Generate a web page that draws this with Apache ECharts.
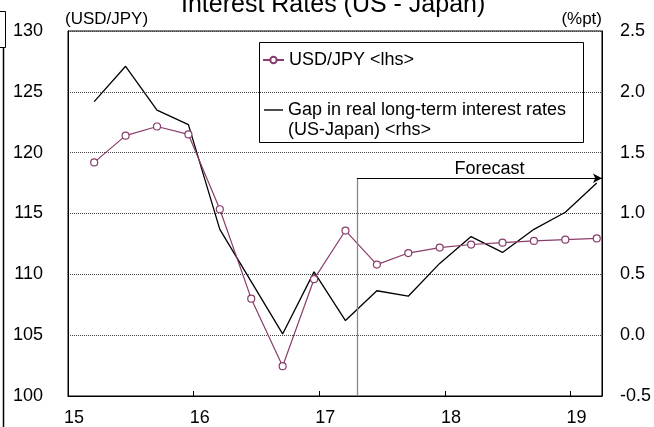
<!DOCTYPE html>
<html>
<head>
<meta charset="utf-8">
<script src="https://cdn.jsdelivr.net/npm/echarts@6/dist/echarts.min.js"></script>
<style>
html,body{margin:0;padding:0;background:#fff;}
#chart{width:654px;height:427px;}
</style>
</head>
<body>
<div id="chart"></div>
<script>
// Quarterly observations (Q1 2015 .. Q1 2019)
const quarters = ['15Q1','15Q2','15Q3','15Q4','16Q1','16Q2','16Q3','16Q4','17Q1','17Q2','17Q3','17Q4','18Q1','18Q2','18Q3','18Q4','19Q1'];
const usdJpy = [119.2, 121.4, 122.15, 121.5, 115.35, 108.0, 102.45, 109.6, 113.6, 110.8, 111.75, 112.2, 112.45, 112.6, 112.75, 112.85, 112.95];
const rateGap = [1.92, 2.21, 1.85, 1.73, 0.87, 0.44, 0.01, 0.52, 0.12, 0.365, 0.32, 0.59, 0.81, 0.68, 0.87, 1.01, 1.25];
const xTickLabels = ['15','16','17','18','19'];
const leftTicks = [100,105,110,115,120,125,130];
const rightTicks = ['-0.5','0.0','0.5','1.0','1.5','2.0','2.5'];
const seriesNames = ['USD/JPY <lhs>', 'Gap in real long-term interest rates\n(US-Japan) <rhs>'];
const forecastStart = 17.3;
const forecastLevel = 1.29;

// quarter -> position on a monthly year axis (centre of last month of the quarter)
function qPos(q){
  const yr = parseInt(q.slice(0,2),10);
  const qn = parseInt(q.slice(3),10);
  return yr + (3*qn - 0.5)/12;
}
const usdData = quarters.map((q,i)=>[qPos(q), usdJpy[i]]);
const gapData = quarters.map((q,i)=>[qPos(q), rateGap[i]]);

const FONT = 'Liberation Sans, Arial, sans-serif';
const chart = echarts.init(document.getElementById('chart'), null, {renderer:'canvas'});
const option = {
  animation:false,
  backgroundColor:'#fff',
  textStyle:{fontFamily:FONT},
  title:{
    text:'Interest Rates (US - Japan)',
    left:181, top:-7, padding:0,
    textStyle:{fontFamily:FONT, fontSize:25, fontWeight:'normal', color:'#000'}
  },
  grid:{left:68, right:51, top:31, bottom:29, show:true, borderColor:'#000', borderWidth:1, backgroundColor:'transparent'},
  legend:[
    {data:[seriesNames[0]], left:262, top:51, padding:0, itemWidth:21, itemHeight:8,
     textStyle:{fontFamily:FONT, fontSize:18, color:'#000'}},
    {data:[{name:seriesNames[1], icon:'rect'}], left:264, top:80, padding:0, itemWidth:19, itemHeight:1.4,
     itemStyle:{color:'#000'},
     formatter:function(n){ return ' \n' + n; },
     textStyle:{fontFamily:FONT, fontSize:18, color:'#000', lineHeight:20}}
  ],
  xAxis:{
    type:'value', min:15, max:19.25, interval:1,
    axisLine:{show:true, onZero:false, lineStyle:{color:'#000', width:1}},
    axisTick:{show:true, inside:true, length:5, lineStyle:{color:'#000'}},
    splitLine:{show:false},
    axisLabel:{
      color:'#000', fontSize:18, fontFamily:FONT, margin:13, padding:[0,0,0,12],
      showMaxLabel:false,
      formatter:function(v){ const i = Math.round(v-15); return (Math.abs(v-Math.round(v))<1e-6 && i>=0 && i<xTickLabels.length) ? xTickLabels[i] : ''; }
    }
  },
  yAxis:[
    {type:'value', min:100, max:130, interval:5, position:'left',
     axisLine:{show:true, lineStyle:{color:'#000'}},
     axisTick:{show:false},
     splitLine:{show:true, lineStyle:{color:'#444', type:'dotted', width:1}},
     axisLabel:{color:'#000', fontSize:18, fontFamily:FONT, margin:25,
       formatter:function(v){ const i = leftTicks.indexOf(v); return i>=0 ? String(leftTicks[i]) : ''; }}
    },
    {type:'value', min:-0.5, max:2.5, interval:0.5, position:'right',
     axisLine:{show:true, lineStyle:{color:'#000'}},
     axisTick:{show:false},
     splitLine:{show:false},
     axisLabel:{color:'#000', fontSize:18, fontFamily:FONT, margin:18,
       formatter:function(v){ const i = Math.round((v+0.5)/0.5); return rightTicks[i] || ''; }}
    }
  ],
  graphic:[
    {type:'text', left:65, top:11, style:{text:'(USD/JPY)', font:'17px '+FONT, fill:'#000'}},
    {type:'text', right:52, top:11, style:{text:'(%pt)', font:'17px '+FONT, fill:'#000', textAlign:'right'}},
    {type:'rect', shape:{x:259.5, y:42.5, width:324, height:100}, style:{fill:'none', stroke:'#000', lineWidth:1}, z:5},
    {type:'polyline', shape:{points:[[0,11.5],[5.5,11.5],[5.5,47.5],[0,47.5]]}, style:{stroke:'#000', fill:'none', lineWidth:1}},
    {type:'line', shape:{x1:3.5,y1:47,x2:3.5,y2:427}, style:{stroke:'#000', lineWidth:1.5}}
  ],
  series:[
    {name:seriesNames[0], type:'line', xAxisIndex:0, yAxisIndex:0, data:usdData,
     symbol:'circle', symbolSize:7, showSymbol:true,
     lineStyle:{color:'#8a3c6c', width:1.2},
     itemStyle:{color:'#fff', borderColor:'#8a3c6c', borderWidth:1.2},
     z:3},
    {name:seriesNames[1], type:'line', xAxisIndex:0, yAxisIndex:1, data:gapData,
     symbol:'none', showSymbol:false,
     lineStyle:{color:'#000', width:1.3},
     itemStyle:{color:'#000'},
     z:2,
     markLine:{
       silent:true, symbol:['none','none'], animation:false,
       data:[
         [{coord:[forecastStart,-0.5], lineStyle:{color:'#888', width:1.3, type:'solid'}, label:{show:false}},
          {coord:[forecastStart,forecastLevel]}],
         [{coord:[forecastStart,forecastLevel], lineStyle:{color:'#000', width:1, type:'solid'},
           label:{show:true, position:'middle', formatter:'Forecast', color:'#000', fontSize:18, fontFamily:FONT, distance:0, padding:[0,0,0,20]}},
          {coord:[19.25,forecastLevel], symbol:'arrow', symbolSize:[7,9]}]
       ]
     }}
  ]
};
chart.setOption(option);
</script>
</body>
</html>
